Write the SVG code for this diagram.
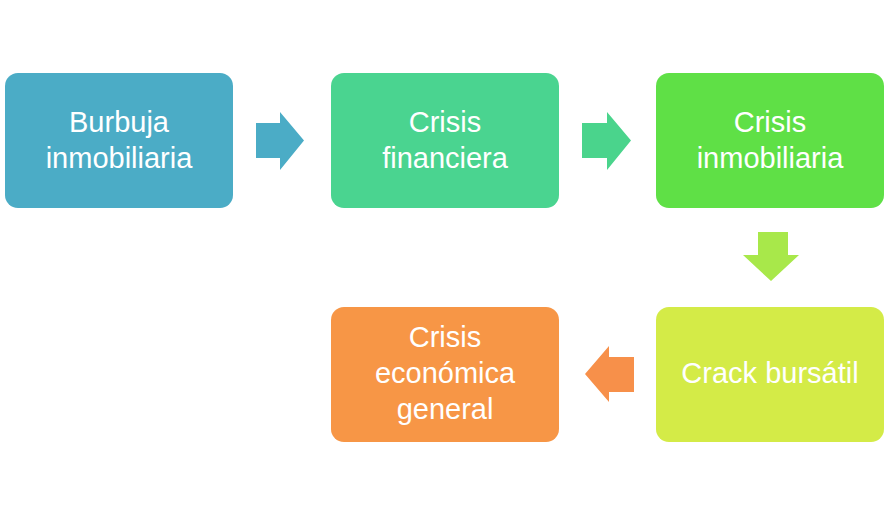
<svg xmlns="http://www.w3.org/2000/svg" width="889" height="515" viewBox="0 0 889 515">
<style>
.box{rx:13px;ry:13px}
text{font-family:"Liberation Sans",Arial,sans-serif;font-size:29px;fill:#ffffff;text-anchor:middle}
</style>
<rect width="889" height="515" fill="#ffffff"/>
<g id="connectors">
<polygon id="a1" points="256,123 280,123 280,112 304,140.5 280,170 280,158 256,158" fill="#4BACC6"/>
<polygon id="a2" points="582,123 607,123 607,112 631,140.5 607,170 607,158 582,158" fill="#4AD48C"/>
<polygon id="a3" points="758,232 788,232 788,255 799,255 771,281 743,255 758,255" fill="#A8E84A"/>
<polygon id="a4" points="634,357 609,357 609,346 585,374 609,402 609,392 634,392" fill="#F7904A"/>
</g>
<g id="n1"><rect class="box" x="5" y="73" width="228" height="135" fill="#4BACC6"/>
<text x="119" y="132">Burbuja</text><text x="119" y="168">inmobiliaria</text></g>
<g id="n2"><rect class="box" x="331" y="73" width="228" height="135" fill="#4AD490"/>
<text x="445" y="132">Crisis</text><text x="445" y="168">financiera</text></g>
<g id="n3"><rect class="box" x="656" y="73" width="228" height="135" fill="#5FE046"/>
<text x="770" y="132">Crisis</text><text x="770" y="168">inmobiliaria</text></g>
<g id="n4"><rect class="box" x="656" y="307" width="228" height="135" fill="#D4EB47"/>
<text x="770" y="383">Crack bursátil</text></g>
<g id="n5"><rect class="box" x="331" y="307" width="228" height="135" fill="#F79646"/>
<text x="445" y="347">Crisis</text><text x="445" y="383">económica</text><text x="445" y="419">general</text></g>
</svg>
